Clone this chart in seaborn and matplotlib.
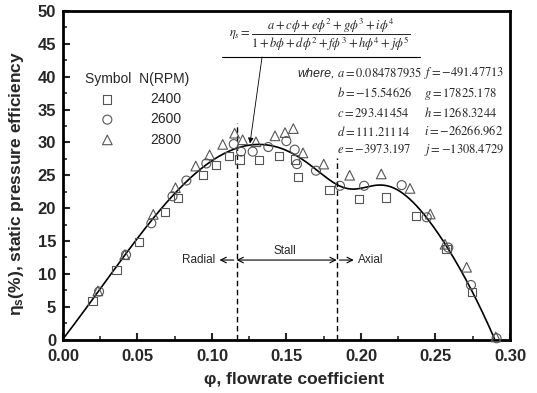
import numpy as np
import pandas as pd
import matplotlib
matplotlib.use('Agg')
import matplotlib.pyplot as plt
import seaborn as sns
from matplotlib.ticker import MultipleLocator, FormatStrFormatter

phi_2400 = [0.0199, 0.036, 0.051, 0.0685, 0.0774, 0.0938, 0.1029, 0.1116, 0.1185, 0.1317,
            0.1448, 0.1557, 0.1579, 0.1789, 0.1985, 0.2168, 0.2369, 0.2575, 0.2746]
eta_2400 = [5.9, 10.6, 14.8, 19.45, 21.5, 25.0, 26.6, 27.9, 27.4, 27.3,
            27.9, 27.4, 24.7, 22.75, 21.4, 21.6, 18.8, 13.8, 7.2]

phi_2600 = [0.0242, 0.0423, 0.0593, 0.0735, 0.0828, 0.0962, 0.1146, 0.1195, 0.1273, 0.1378,
            0.1499, 0.1555, 0.157, 0.1698, 0.1859, 0.2021, 0.2273, 0.2441, 0.2586, 0.2738, 0.291]
eta_2600 = [7.3, 12.9, 17.7, 21.8, 24.2, 26.8, 29.75, 28.6, 28.6, 29.3,
            30.2, 28.9, 26.7, 25.7, 23.4, 23.4, 23.5, 18.6, 14.0, 8.3, 0.2]

phi_2800 = [0.0234, 0.0414, 0.0606, 0.0755, 0.0891, 0.0984, 0.1072, 0.1152, 0.1206, 0.1295,
            0.1423, 0.149, 0.1546, 0.1611, 0.175, 0.1924, 0.2136, 0.2329, 0.2465, 0.2564, 0.2709, 0.2905]
eta_2800 = [7.4, 12.9, 19.05, 23.1, 26.4, 28.1, 29.7, 31.4, 30.4, 30.1,
            31.0, 31.5, 32.1, 28.4, 26.7, 25.0, 25.2, 23.0, 19.1, 14.5, 11.0, 0.4]

# fit coefficients printed on the chart
a, b, c, d, e = 0.084787935, -15.54626, 293.41454, 111.21114, -3973.197
f, g, h, i, j = -491.47713, 17825.178, 1268.3244, -26266.962, -1308.4729

# regime boundaries
phi_radial = 0.1165
phi_axial = 0.1837

sns.set_style('ticks')
plt.rcParams['font.family'] = ['Liberation Sans', 'DejaVu Sans']
plt.rcParams['mathtext.fontset'] = 'stix'

fig = plt.figure(figsize=(5.37, 3.93), dpi=100)
ax = fig.add_axes([0.1173, 0.136, 0.8324, 0.836])

# fitted curve
phi_fit = np.linspace(0, 0.2905, 600)
num = a + c*phi_fit + e*phi_fit**2 + g*phi_fit**3 + i*phi_fit**4
den = 1 + b*phi_fit + d*phi_fit**2 + f*phi_fit**3 + h*phi_fit**4 + j*phi_fit**5
eta_fit = num / den
keep = eta_fit >= 0
sns.lineplot(x=phi_fit[keep], y=eta_fit[keep], color='black', lw=1.2, ax=ax, sort=False)

series = [('2400', phi_2400, eta_2400, 's', 36),
          ('2600', phi_2600, eta_2600, 'o', 42),
          ('2800', phi_2800, eta_2800, '^', 48)]
for label, xs, ys, mk, sz in series:
    sns.scatterplot(x=xs, y=ys, marker=mk, s=sz, facecolors='none', edgecolor='#555555',
                    linewidth=0.8, ax=ax, label=label, zorder=3, clip_on=False)

ax.set_xlim(0, 0.30)
ax.set_ylim(0, 50)
ax.xaxis.set_major_locator(MultipleLocator(0.05))
ax.xaxis.set_minor_locator(MultipleLocator(0.025))
ax.yaxis.set_major_locator(MultipleLocator(5))
ax.yaxis.set_minor_locator(MultipleLocator(2.5))
ax.xaxis.set_major_formatter(FormatStrFormatter('%.2f'))
ax.tick_params(which='major', direction='in', length=5, width=1.5, labelsize=12, pad=5)
ax.tick_params(axis='x', which='major', pad=6.5)
ax.tick_params(which='minor', direction='in', length=3, width=1.2)
for lab in ax.get_xticklabels() + ax.get_yticklabels():
    lab.set_fontweight('bold')
for sp in ax.spines.values():
    sp.set_visible(True)
    sp.set_linewidth(2)
    sp.set_color('black')

ax.set_xlabel('φ, flowrate coefficient', fontsize=12.5, fontweight='bold')
ax.set_ylabel(r'$\mathregular{\eta_s}$(%), static pressure efficiency', fontsize=12.5,
              fontweight='bold')
ax.xaxis.set_label_coords(0.518, -0.1)
ax.yaxis.set_label_coords(-0.083, 0.476)

# regime lines and arrows
ax.vlines(phi_radial, 0, 33, colors='black', linestyles=(0, (4, 2.5)), lw=1)
ax.vlines(phi_axial, 0, 27.6, colors='black', linestyles=(0, (4, 2.5)), lw=1)
arrow_y = 12.1
ax.annotate('', xy=(0.1032, arrow_y), xytext=(phi_radial, arrow_y),
            arrowprops=dict(arrowstyle='->', color='black', lw=0.8))
ax.annotate('', xy=(phi_radial, arrow_y), xytext=(phi_axial, arrow_y),
            arrowprops=dict(arrowstyle='<->', color='black', lw=0.8, shrinkA=0, shrinkB=0))
ax.annotate('', xy=(0.197, arrow_y), xytext=(phi_axial, arrow_y),
            arrowprops=dict(arrowstyle='->', color='black', lw=0.8))
ax.text(0.102, arrow_y, 'Radial', ha='right', va='center', fontsize=8.5)
ax.text(0.149, arrow_y + 0.5, 'Stall', ha='center', va='bottom', fontsize=8.5)
ax.text(0.198, arrow_y, 'Axial', ha='left', va='center', fontsize=8.5)

# formula and coefficients
ax.text(0.575, 0.927,
        r'$\eta_s = \dfrac{a + c\phi + e\phi^2 + g\phi^3 + i\phi^4}'
        r'{1 + b\phi + d\phi^2 + f\phi^3 + h\phi^4 + j\phi^5}$',
        transform=ax.transAxes, ha='center', va='center', fontsize=9)
ax.axhline(43.0, xmin=0.356, xmax=0.799, color='black', lw=0.8)
ax.annotate('', xy=(0.1255, 29.85), xytext=(0.1336, 43.0),
            arrowprops=dict(arrowstyle='-|>', color='black', lw=0.6, shrinkA=0, shrinkB=0,
                            mutation_scale=8))

ax.text(0.6085, 0.810, 'where,', transform=ax.transAxes, ha='right', va='center',
        fontsize=9, style='italic')
col1 = [('a', a, '%.9f'), ('b', b, '%.5f'), ('c', c, '%.5f'), ('d', d, '%.5f'), ('e', e, '%.3f')]
col2 = [('f', f, '%.5f'), ('g', g, '%.3f'), ('h', h, '%.4f'), ('i', i, '%.3f'), ('j', j, '%.4f')]
rows_y = [0.810, 0.7495, 0.6895, 0.6326, 0.5769]
for (n1, v1, f1), (n2, v2, f2), yy in zip(col1, col2, rows_y):
    ax.text(0.613, yy, r'$%s = %s$' % (n1, f1 % v1), transform=ax.transAxes,
            ha='left', va='center', fontsize=9)
    ax.text(0.808, yy, r'$%s = %s$' % (n2, f2 % v2), transform=ax.transAxes,
            ha='left', va='center', fontsize=9)

leg = ax.legend(title='Symbol  N(RPM)', loc='upper left', bbox_to_anchor=(0.05, 0.815),
                frameon=False, fontsize=10, title_fontsize=10, borderaxespad=0, borderpad=0,
                handletextpad=2.1, labelspacing=0.45, handlelength=2)

plt.savefig('out.png', dpi=100)
